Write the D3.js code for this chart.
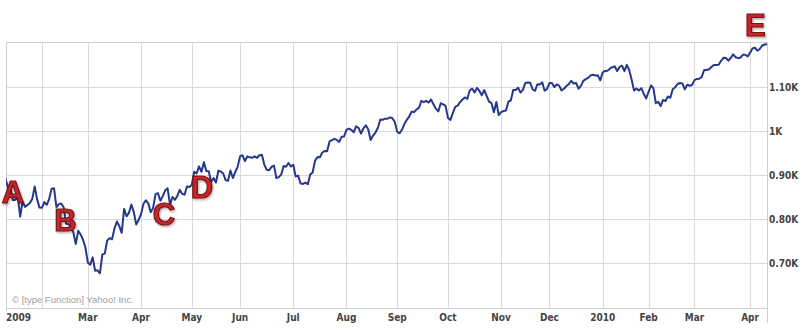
<!DOCTYPE html>
<html>
<head>
<meta charset="utf-8">
<script src="https://cdn.jsdelivr.net/npm/d3@7"></script>
<style>
  body { margin: 0; background: #fff; }
  .lbl { font-family: "DejaVu Sans Condensed", "DejaVu Sans", sans-serif; font-weight: bold; font-size: 10px; fill: #444; }
</style>
</head>
<body>
<script>
// daily closes, one array per year (trading days only)
var closes2009 = [
  931.80, 927.45, 934.70, 906.65, 909.73, 890.35, 870.26, 871.79, 842.62, 843.74, 850.12, 805.22, 840.24, 827.50, 831.95, 836.57, 845.71, 874.09, 845.14, 825.88,
  825.44, 838.51, 832.23, 845.85, 868.60, 869.89, 827.16, 833.74, 835.19, 826.84, 789.17, 788.42, 778.94, 770.05, 743.33, 773.14, 764.90, 752.83, 735.09,
  700.82, 696.33, 712.87, 682.55, 683.38, 676.53, 719.60, 721.36, 750.74, 756.55, 753.89, 778.12, 794.35, 784.04, 768.54, 822.92, 806.12, 813.88, 832.86, 815.94, 787.53, 797.87,
  811.08, 834.38, 842.50, 835.48, 815.55, 825.16, 856.56, 858.73, 841.50, 852.06, 865.30, 869.60, 832.39, 850.08, 843.55, 851.92, 866.23, 857.51, 855.16, 873.64, 872.81,
  877.52, 907.24, 903.80, 919.53, 907.39, 929.23, 909.24, 908.35, 883.92, 893.07, 882.88, 909.71, 908.13, 903.47, 888.33, 887.00, 910.33, 893.06, 906.83, 919.14,
  942.87, 944.74, 931.76, 942.46, 940.09, 939.14, 942.43, 939.15, 944.89, 946.21, 923.72, 911.97, 910.71, 918.37, 921.23, 893.04, 895.10, 900.94, 920.26, 918.90, 927.23, 919.32,
  923.33, 896.42, 898.72, 881.03, 879.56, 882.68, 879.13, 901.05, 905.84, 932.68, 940.74, 940.38, 951.13, 954.58, 954.07, 976.29, 979.26, 982.18, 979.62, 975.15, 986.75, 987.48,
  1002.63, 1005.65, 1002.72, 997.08, 1010.48, 1007.10, 994.35, 1005.81, 1012.73, 1004.09, 979.73, 989.67, 996.46, 1007.37, 1026.13, 1025.57, 1028.00, 1028.12, 1030.98, 1028.93, 1020.62,
  998.04, 994.75, 1003.24, 1016.40, 1025.39, 1033.37, 1044.14, 1042.73, 1049.34, 1052.63, 1068.76, 1065.49, 1068.30, 1064.66, 1071.66, 1060.87, 1050.78, 1044.38, 1062.98, 1060.61, 1057.08,
  1029.85, 1025.21, 1040.46, 1054.72, 1057.58, 1065.48, 1071.49, 1076.19, 1073.19, 1092.02, 1096.56, 1087.68, 1097.91, 1091.06, 1081.40, 1092.91, 1079.60, 1066.95, 1063.41, 1042.63, 1066.11, 1036.19,
  1042.88, 1045.41, 1046.50, 1066.63, 1069.30, 1093.08, 1093.01, 1098.51, 1087.24, 1093.48, 1109.30, 1110.32, 1109.80, 1094.90, 1091.38, 1106.24, 1105.65, 1110.63, 1091.49, 1095.63,
  1108.86, 1109.24, 1099.92, 1105.98, 1103.25, 1091.94, 1095.95, 1102.35, 1106.41, 1114.11, 1107.93, 1109.18, 1096.08, 1102.47, 1114.05, 1118.02, 1120.59, 1126.48, 1127.78, 1126.20, 1126.42, 1115.10
];
var closes2010 = [
  1132.99, 1136.52, 1137.14, 1141.69, 1144.98, 1146.98, 1136.22, 1145.68, 1148.46, 1136.03, 1150.23, 1138.04, 1116.48, 1091.76, 1096.78, 1092.17, 1097.50, 1084.53, 1073.87,
  1089.19, 1103.32, 1097.28, 1063.11, 1066.19, 1056.74, 1070.52, 1068.13, 1078.47, 1075.51, 1094.87, 1099.51, 1106.75, 1109.17, 1108.01, 1094.60, 1105.24, 1102.94, 1104.49,
  1115.71, 1118.31, 1118.79, 1122.97, 1138.70, 1138.50, 1140.45, 1145.61, 1150.24, 1149.99, 1150.51, 1159.46, 1166.21, 1165.83, 1159.90, 1165.81, 1174.17, 1167.72, 1165.73, 1166.59, 1173.22, 1173.27, 1169.43,
  1178.10, 1187.44, 1189.44, 1182.45, 1186.44, 1194.37, 1196.48, 1197.30
];

var monthLabels = ["2009", "Feb", "Mar", "Apr", "May", "Jun", "Jul", "Aug", "Sep", "Oct", "Nov", "Dec", "2010", "Feb", "Mar", "Apr"];
var monthDays = [20, 19, 22, 21, 20, 22, 22, 21, 21, 22, 20, 22, 19, 19, 23, 8];

var yTicks = [700, 800, 900, 1000, 1100];
var yTickLabels = ["0.70K", "0.80K", "0.90K", "1K", "1.10K"];

var markLetters = ["A", "B", "C", "D", "E"];
var markDay = [8, 29.7, 70.5, 86.2, 315.2];
var markValue = [836, 773, 786, 848, 1216];

chart();

function chart()
{
    var width = 803,
        height = 335;
    var left = 6, right = 767, top = 42, bottom = 308;

    var closes = closes2009.concat(closes2010);

    var svg = d3.select("body").append("svg")
        .attr("width", width)
        .attr("height", height);

    var x = d3.scaleLinear()
        .domain([0, closes.length - 1])
        .range([-6.4, right]);
    var y = d3.scaleLinear()
        .domain([600, 1200])
        .range([307, 43]);

    // first trading day of each month
    var monthStart = [];
    var acc = 0;
    monthDays.forEach(function (d) { monthStart.push(acc); acc += d; });

    var grid = svg.append("g").attr("stroke", "#dadada").attr("stroke-width", 1);

    grid.selectAll(".hgrid")
        .data(yTicks)
        .enter()
        .append("line")
        .attr("x1", left).attr("x2", right)
        .attr("y1", function (d) { return Math.round(y(d)) + 0.5; })
        .attr("y2", function (d) { return Math.round(y(d)) + 0.5; });

    grid.selectAll(".vgrid")
        .data(monthStart.filter(function (d) { return x(d) > left; }))
        .enter()
        .append("line")
        .attr("x1", function (d) { return Math.round(x(d)) + 0.5; })
        .attr("x2", function (d) { return Math.round(x(d)) + 0.5; })
        .attr("y1", top).attr("y2", bottom);

    // frame
    var frame = svg.append("g").attr("stroke", "#cfcfcf").attr("fill", "none");
    frame.append("line").attr("x1", left).attr("x2", right + 0.5).attr("y1", top + 0.5).attr("y2", top + 0.5);
    frame.append("line").attr("x1", left).attr("x2", right + 0.5).attr("y1", bottom + 0.5).attr("y2", bottom + 0.5);
    frame.append("line").attr("x1", left + 0.5).attr("x2", left + 0.5).attr("y1", top).attr("y2", bottom + 3);
    frame.append("line").attr("x1", right + 0.5).attr("x2", right + 0.5).attr("y1", top).attr("y2", 323);

    svg.append("text")
        .attr("x", 12)
        .attr("y", 303)
        .attr("font-family", "Liberation Sans, Arial, sans-serif")
        .attr("font-size", "9.5px")
        .attr("fill", "#a0a0a0")
        .text("\u00a9 [type Function] Yahoo! Inc.");

    svg.append("clipPath").attr("id", "plot")
        .append("rect")
        .attr("x", left).attr("y", top)
        .attr("width", right - left + 1).attr("height", bottom - top);

    var line = d3.line()
        .x(function (d, i) { return x(i); })
        .y(function (d) { return y(d); });

    svg.append("path")
        .datum(closes)
        .attr("clip-path", "url(#plot)")
        .attr("fill", "none")
        .attr("stroke", "#25388b")
        .attr("stroke-width", 2)
        .attr("stroke-linejoin", "round")
        .attr("d", line);

    // x labels; a label too close to the one before is dropped
    var lastX = -100;
    var xl = [];
    monthStart.forEach(function (d, i) {
        var px = x(d) < left ? left : x(d);
        if (px - lastX < 40) return;
        xl.push({ x: px, start: x(d) < left, text: monthLabels[i] });
        lastX = px;
    });

    svg.selectAll(".xl")
        .data(xl)
        .enter()
        .append("text")
        .attr("class", "lbl")
        .attr("x", function (d) { return d.x; })
        .attr("y", 321)
        .attr("text-anchor", function (d) { return d.start ? "start" : "middle"; })
        .text(function (d) { return d.text; });

    // y labels
    svg.selectAll(".yl")
        .data(yTicks)
        .enter()
        .append("text")
        .attr("class", "lbl")
        .attr("x", right + 2)
        .attr("y", function (d) { return y(d); })
        .attr("dy", "0.36em")
        .text(function (d, i) { return yTickLabels[i]; });

    // letter markers
    var defs = svg.append("defs");
    var f = defs.append("filter").attr("id", "sh").attr("x", "-30%").attr("y", "-30%").attr("width", "160%").attr("height", "160%");
    f.append("feDropShadow").attr("dx", 1).attr("dy", 1.5).attr("stdDeviation", 1).attr("flood-color", "#000").attr("flood-opacity", 0.35);

    svg.selectAll(".mark")
        .data(markLetters)
        .enter()
        .append("text")
        .attr("x", function (d, i) { return x(markDay[i]); })
        .attr("y", function (d, i) { return y(markValue[i]); })
        .attr("text-anchor", "middle")
        .attr("font-family", "Liberation Sans Narrow, Arial Narrow, Liberation Sans, sans-serif")
        .attr("font-weight", "bold")
        .attr("font-size", "31px")
        .attr("fill", "#c4262c")
        .attr("stroke", "#7a1215")
        .attr("stroke-width", 1.2)
        .attr("filter", "url(#sh)")
        .text(function (d) { return d; });
}
</script>
</body>
</html>
